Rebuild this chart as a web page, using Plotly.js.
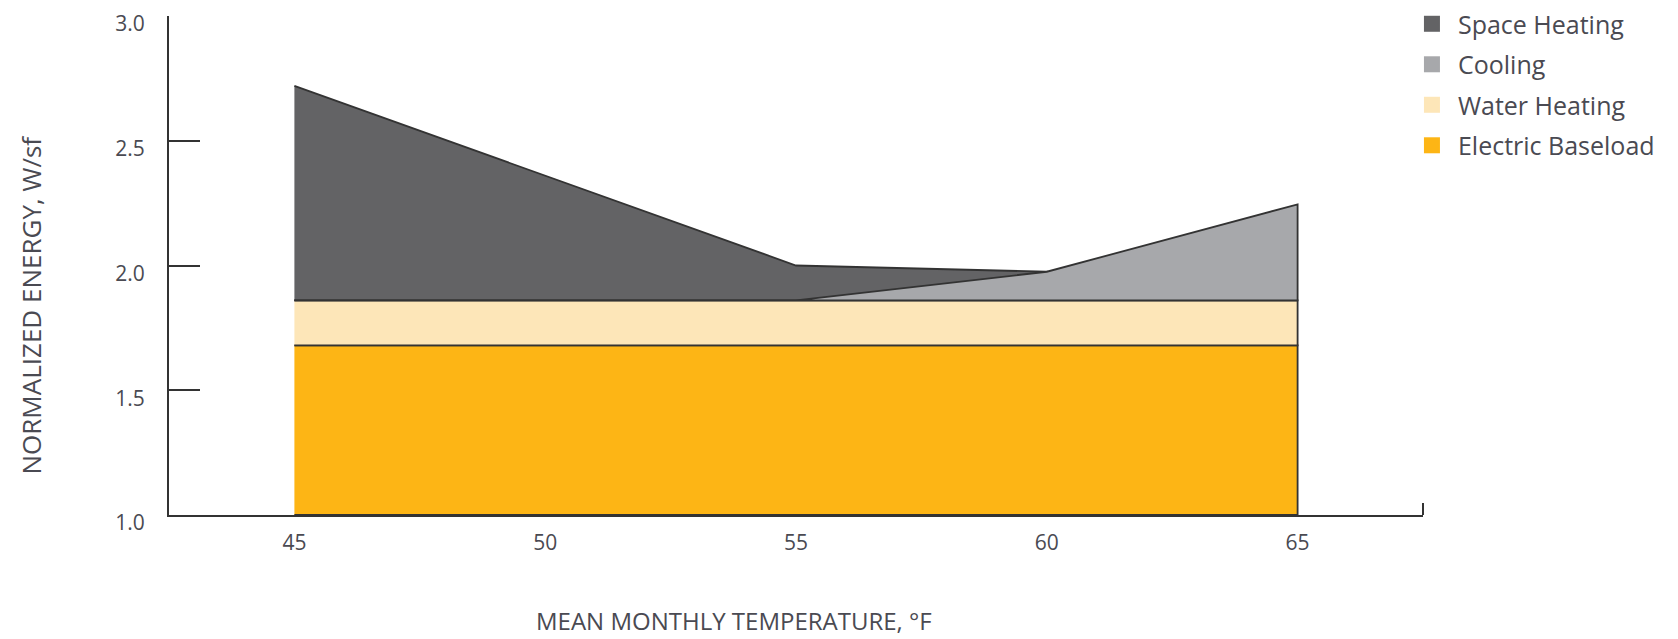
<!DOCTYPE html>
<html>
<head>
<meta charset="utf-8">
<script src="https://cdn.plot.ly/plotly-3.0.1.min.js"></script>
<style>html,body{margin:0;padding:0;background:#fff;}#chart{width:1678px;height:639px;}</style>
</head>
<body>
<div id="chart"></div>
<script>
// ---- data ----
const temps = [45, 50, 55, 60, 65];
const electricBaseloadTop = [1.68, 1.68, 1.68, 1.68, 1.68];
const waterHeatingTop = [1.86, 1.86, 1.86, 1.86, 1.86];
const spaceHeatingTop = [2.72, 2.36, 2.00, 1.975, 1.86];
const coolingTop = [1.86, 1.86, 1.86, 1.975, 2.245];
const yRange = [1.0, 3.0];
const xRange = [42.5, 67.5];
const seriesNames = ["Space Heating", "Cooling", "Water Heating", "Electric Baseload"];
const seriesColors = ["#636365", "#a7a8ab", "#fde6b8", "#fdb515"];
const yTickVals = [1.0, 1.5, 2.0, 2.5, 3.0];
const yTickText = ["1.0", "1.5", "2.0", "2.5", "3.0"];
const xTickVals = [45, 50, 55, 60, 65];
const xTitle = "MEAN MONTHLY TEMPERATURE, °F";
const yTitle = "NORMALIZED ENERGY, W/sf";

const floor = temps.map(() => yRange[0]);
const rev = a => a.slice().reverse();
function band(top, bottom, color) {
  return {
    type: "scatter", mode: "lines",
    x: temps.concat(rev(temps)),
    y: top.concat(rev(bottom)),
    fill: "toself", fillcolor: color,
    line: {color: "#333333", width: 1.8},
    hoverinfo: "skip", showlegend: false
  };
}
const traces = [
  band(electricBaseloadTop, floor, seriesColors[3]),
  band(waterHeatingTop, electricBaseloadTop, seriesColors[2]),
  band(spaceHeatingTop, waterHeatingTop, seriesColors[0]),
  band(coolingTop, waterHeatingTop, seriesColors[1])
];
seriesNames.forEach((n, i) => {
  traces.push({
    type: "scatter", mode: "markers", x: [null], y: [null], name: n,
    legendgroup: "g" + i, legendrank: i + 1,
    marker: {symbol: "square", size: 16, color: seriesColors[i]}
  });
});

const txt = "#4a4a52";
const fam = "'Open Sans', Lato, sans-serif";
const layout = {
  width: 1678, height: 639,
  margin: {l: 169, r: 255, t: 16, b: 124, autoexpand: false},
  paper_bgcolor: "#fff", plot_bgcolor: "#fff",
  font: {family: fam, color: txt},
  showlegend: true,
  legend: {
    x: 0.9864, y: 1.03, xanchor: "left", yanchor: "top",
    traceorder: "grouped", tracegroupgap: 5,
    font: {size: 25, family: fam, color: txt},
    itemwidth: 42, bgcolor: "rgba(0,0,0,0)"
  },
  xaxis: {
    range: xRange, tickvals: xTickVals, ticks: "", showgrid: false, zeroline: false,
    showline: true, linecolor: "#333", linewidth: 2,
    tickfont: {size: 21, family: fam, color: txt},
    ticklabelstandoff: 8
  },
  yaxis: {
    range: yRange, tickvals: yTickVals, ticktext: yTickText,
    ticks: "inside", ticklen: 31, tickwidth: 2, tickcolor: "#333",
    showgrid: false, zeroline: false,
    showline: true, linecolor: "#333", linewidth: 2,
    tickfont: {size: 21, family: fam, color: txt},
    ticklabelstandoff: 18, ticklabelshift: 8
  },
  annotations: [
    {text: xTitle, xref: "paper", yref: "paper", x: 0.4506, y: -0.2124,
     xanchor: "center", yanchor: "middle", showarrow: false,
     font: {size: 24, family: fam, color: txt}},
    {text: yTitle, xref: "paper", yref: "paper", x: -0.110, y: 0.42, textangle: -90,
     xanchor: "center", yanchor: "middle", showarrow: false,
     font: {size: 26, family: fam, color: txt}}
  ],
  shapes: [{type: "line", xref: "paper", yref: "paper", x0: 1, x1: 1, y0: 0, y1: 0.024,
    line: {color: "#333", width: 2}}]
};
Plotly.newPlot("chart", traces, layout, {displayModeBar: false, staticPlot: true});
</script>
</body>
</html>
